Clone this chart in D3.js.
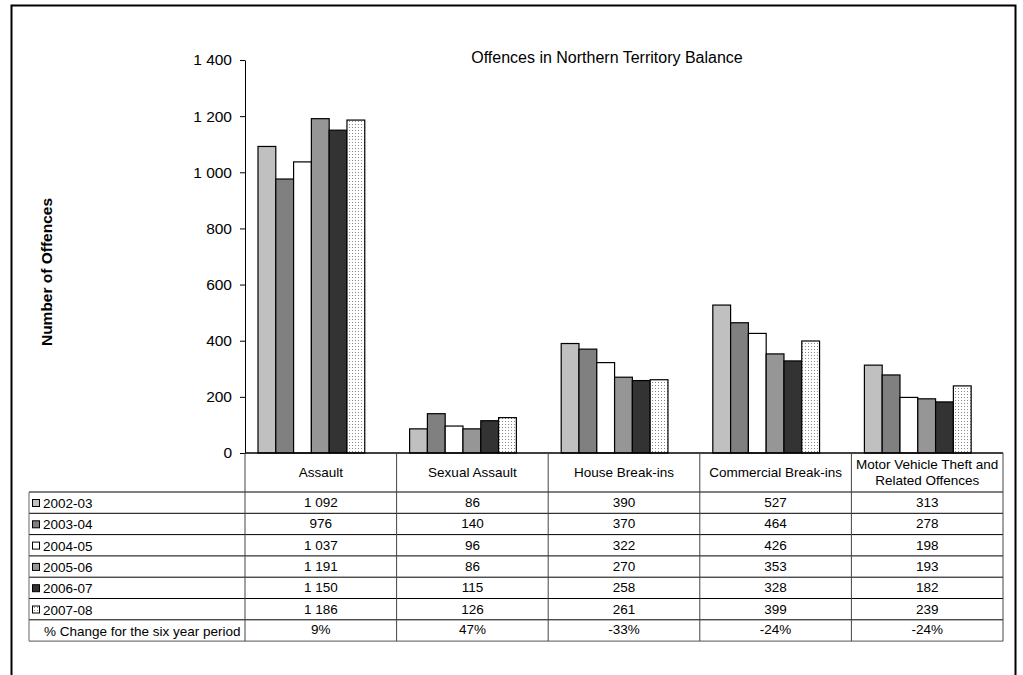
<!DOCTYPE html>
<html>
<head>
<meta charset="utf-8">
<script src="https://cdn.jsdelivr.net/npm/d3@7"></script>
<style>
  body { margin: 0; background: #fff; }
  text { font-family: "Liberation Sans", Arial, sans-serif; fill: #000; }
</style>
</head>
<body>
<script>
// categories and series
const categories = ["Assault", "Sexual Assault", "House Break-ins", "Commercial Break-ins", "Motor Vehicle Theft and|Related Offences"];
const years = ["2002-03", "2003-04", "2004-05", "2005-06", "2006-07", "2007-08"];
const v0203 = [1092, 86, 390, 527, 313];
const v0304 = [976, 140, 370, 464, 278];
const v0405 = [1037, 96, 322, 426, 198];
const v0506 = [1191, 86, 270, 353, 193];
const v0607 = [1150, 115, 258, 328, 182];
const v0708 = [1186, 126, 261, 399, 239];
const pctChange = ["9%", "47%", "-33%", "-24%", "-24%"];
const yTicks = [0, 200, 400, 600, 800, 1000, 1200, 1400];

const series = [v0203, v0304, v0405, v0506, v0607, v0708];
const fills = ["#c0c0c0", "#808080", "#ffffff", "#969696", "#333333", "url(#dots)"];

const width = 1023, height = 675;
const margin = {top: 60, left: 245};
const plotRight = 1003;
const y0 = 453;

const svg = d3.select("body").append("svg")
    .attr("width", width)
    .attr("height", height);

// dotted pattern for 2007-08
const pat = svg.append("defs").append("pattern")
    .attr("id", "dots")
    .attr("width", 3).attr("height", 3)
    .attr("patternUnits", "userSpaceOnUse");
pat.append("rect").attr("width", 3).attr("height", 3).attr("fill", "#fff");
pat.append("rect").attr("x", 1).attr("y", 1).attr("width", 1).attr("height", 1).attr("fill", "#888");

// outer frame
svg.append("rect")
    .attr("x", 11.5).attr("y", 5.5)
    .attr("width", 1004).attr("height", 700)
    .attr("fill", "none")
    .attr("stroke", "#000")
    .attr("stroke-width", 2);

const y = d3.scaleLinear()
    .domain([0, 1400])
    .range([y0, margin.top]);

const x = d3.scaleBand()
    .domain(categories)
    .range([margin.left, plotRight]);

// bars sit a little left of centre in each category
const xs = d3.scaleBand()
    .domain(years)
    .range([0, x.bandwidth()])
    .paddingOuter(1.26)
    .align(0.29);

// title
svg.append("text")
    .attr("x", 607).attr("y", 63)
    .attr("text-anchor", "middle")
    .style("font-size", "16px")
    .text("Offences in Northern Territory Balance");

// y axis title
svg.append("text")
    .attr("transform", `translate(52,272) rotate(-90)`)
    .attr("text-anchor", "middle")
    .style("font-size", "15.5px")
    .style("font-weight", "bold")
    .text("Number of Offences");

// y axis
const fmt = n => d3.format(",")(n).replace(/,/g, "\u00a0");
const yAxis = svg.append("g")
    .attr("transform", `translate(${margin.left},0)`)
    .call(d3.axisLeft(y).tickValues(yTicks).tickSize(5).tickSizeOuter(0).tickPadding(8).tickFormat(fmt));
yAxis.selectAll("text")
    .style("font-family", "Liberation Sans, Arial, sans-serif")
    .style("font-size", "15.5px")
    .attr("fill", "#000");
yAxis.selectAll("line").attr("stroke", "#000");
yAxis.select(".domain").attr("stroke", "#000");

// bars
svg.append("g")
  .selectAll("g")
  .data(series)
  .join("g")
    .attr("fill", (d, i) => fills[i])
  .selectAll("rect")
  .data((d, i) => d.map((v, j) => ({v, c: categories[j], s: years[i]})))
  .join("rect")
    .attr("x", d => x(d.c) + xs(d.s))
    .attr("y", d => y(d.v))
    .attr("width", xs.bandwidth())
    .attr("height", d => y(0) - y(d.v))
    .attr("stroke", "#000")
    .attr("stroke-width", 1.2);

// baseline
svg.append("line")
    .attr("x1", margin.left).attr("x2", plotRight)
    .attr("y1", y0).attr("y2", y0)
    .attr("stroke", "#000").attr("stroke-width", 1.5);

// data table
const headerBottom = 492;
const rowH = 21.3;
const tableLeft = 29;
const nRows = years.length + 1;
const tableBottom = headerBottom + nRows * rowH;
const fs = "13.5px";
const tbl = svg.append("g");

// category labels in header row
categories.forEach(c => {
  const cx = x(c) + x.bandwidth() / 2;
  const lines = c.split("|");
  const t = tbl.append("text")
      .attr("text-anchor", "middle")
      .style("font-size", fs);
  lines.forEach((l, k) => {
    t.append("tspan")
      .attr("x", cx)
      .attr("y", 477 + (k - (lines.length - 1) / 2) * 16)
      .text(l);
  });
});

// horizontal lines
d3.range(0, nRows + 1).forEach(r => {
  tbl.append("line")
      .attr("x1", tableLeft).attr("x2", plotRight)
      .attr("y1", headerBottom + r * rowH).attr("y2", headerBottom + r * rowH)
      .attr("stroke", r === nRows ? "#555" : "#000");
});

// vertical lines
tbl.append("line")
    .attr("x1", tableLeft).attr("x2", tableLeft)
    .attr("y1", headerBottom).attr("y2", tableBottom)
    .attr("stroke", "#666");
categories.concat([null]).forEach((c, j) => {
  const xx = c ? x(c) : plotRight;
  tbl.append("line")
      .attr("x1", xx).attr("x2", xx)
      .attr("y1", y0).attr("y2", tableBottom)
      .attr("stroke", "#444");
});

// row labels with legend keys
years.forEach((yr, i) => {
  const ry = headerBottom + i * rowH;
  tbl.append("rect")
      .attr("x", 32.5).attr("y", ry + 7.5)
      .attr("width", 7).attr("height", 7)
      .attr("fill", fills[i])
      .attr("stroke", "#000");
  tbl.append("text")
      .attr("x", 43).attr("y", ry + 16)
      .style("font-size", fs)
      .text(yr);
  series[i].forEach((v, j) => {
    tbl.append("text")
        .attr("x", x(categories[j]) + x.bandwidth() / 2)
        .attr("y", ry + 15)
        .attr("text-anchor", "middle")
        .style("font-size", fs)
        .text(fmt(v));
  });
});

// % change row
const pr = headerBottom + years.length * rowH;
tbl.append("text")
    .attr("x", 44).attr("y", pr + 16)
    .style("font-size", fs)
    .text("% Change for the six year period");
pctChange.forEach((p, j) => {
  tbl.append("text")
      .attr("x", x(categories[j]) + x.bandwidth() / 2)
      .attr("y", pr + 14)
      .attr("text-anchor", "middle")
      .style("font-size", fs)
      .text(p);
});
</script>
</body>
</html>
